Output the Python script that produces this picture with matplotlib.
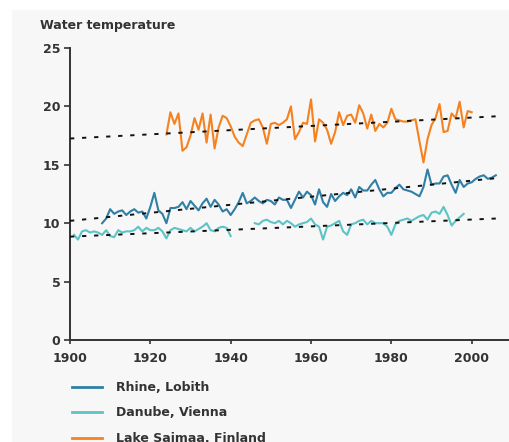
import numpy as np
import matplotlib
matplotlib.use("Agg")
import matplotlib.pyplot as plt
from matplotlib.patches import Rectangle

# ---------------- data ----------------
saimaa_years = list(range(1924, 2001))
saimaa_vals = [17.6, 19.5, 18.5, 19.4, 16.2, 16.5, 17.5, 19.0, 18.0, 19.4,
               16.9, 19.3, 16.4, 18.2, 19.2, 19.0, 18.3, 17.4, 16.9, 16.6,
               17.6, 18.6, 18.8, 18.9, 18.2, 16.8, 18.5, 18.6, 18.4, 18.6,
               18.9, 20.0, 17.2, 17.8, 18.6, 18.5, 20.6, 17.0, 18.9, 18.6,
               18.0, 16.8, 17.8, 19.5, 18.4, 19.2, 19.3, 18.6, 20.1, 19.4,
               18.1, 19.3, 17.9, 18.5, 18.2, 18.6, 19.8, 18.9, 18.8, 18.7,
               18.7, 18.8, 18.9, 17.0, 15.2, 17.2, 18.4, 19.0, 20.2, 17.8,
               17.9, 19.4, 19.0, 20.4, 18.2, 19.6, 19.5]

rhine_years = list(range(1908, 2007))
rhine_vals = [10.0, 10.4, 11.2, 10.8, 11.0, 11.1, 10.7, 11.0, 11.2, 10.9,
              11.0, 10.4, 11.4, 12.6, 11.1, 10.8, 10.0, 11.3, 11.3, 11.4,
              11.8, 11.2, 11.9, 11.5, 11.1, 11.7, 12.1, 11.4, 12.0, 11.6,
              11.0, 11.2, 10.7, 11.2, 11.8, 12.6, 11.7, 11.9, 12.2, 11.9,
              11.7, 12.0, 11.9, 11.6, 12.2, 12.0, 12.0, 11.3, 12.0, 12.7,
              12.2, 12.7, 12.4, 11.6, 12.9, 11.8, 11.4, 12.5, 11.9, 12.3,
              12.6, 12.4, 12.9, 12.2, 13.1, 12.8, 12.8, 13.3, 13.7, 12.9,
              12.3, 12.6, 12.6, 13.0, 13.3, 12.9, 12.8, 12.7, 12.5, 12.3,
              13.1, 14.6, 13.3, 13.4, 13.4, 14.0, 14.1, 13.3, 12.6, 13.7,
              13.1, 13.4, 13.5, 13.8, 14.0, 14.1, 13.8, 13.9, 14.1]

danube_years = list(range(1901, 1999))
danube_vals = [9.0, 8.6, 9.3, 9.4, 9.2, 9.3, 9.2, 9.0, 9.4, 8.9,
               8.8, 9.4, 9.2, 9.3, 9.3, 9.4, 9.7, 9.3, 9.6, 9.4,
               9.4, 9.6, 9.3, 8.7, 9.4, 9.6, 9.5, 9.4, 9.3, 9.6,
               9.3, 9.5, 9.7, 10.0, 9.4, 9.3, 9.6, 9.7, 9.6, 8.9,
               np.nan, np.nan, np.nan, np.nan, np.nan,
               10.0, 9.9, 10.2, 10.3, 10.1, 10.0, 10.2, 9.9, 10.2, 10.0,
               9.7, 9.9, 10.0, 10.1, 10.4, 9.9, 9.7, 8.6, 9.7, 9.8,
               10.0, 10.2, 9.3, 9.0, 9.9, 10.0, 10.2, 10.3, 9.9, 10.2,
               10.0, 10.0, 10.0, 9.7, 9.0, 9.9, 10.2, 10.3, 10.4, 10.2,
               10.4, 10.6, 10.7, 10.3, 10.9, 11.0, 10.8, 11.4, 10.7, 9.8,
               10.2, 10.5, 10.8]

# linear trend lines (start / end values)
trend_years = [1900, 2006]
saimaa_trend = [17.25, 19.15]
rhine_trend = [10.2, 13.85]
danube_trend = [8.85, 10.4]

x_ticks = [1900, 1920, 1940, 1960, 1980, 2000]
y_ticks = [0, 5, 10, 15, 20, 25]
labels = ["Rhine, Lobith", "Danube, Vienna", "Lake Saimaa, Finland"]
colors = ["#2f7fa6", "#5cc3c6", "#f5821f"]

W, H = 510, 442
fig = plt.figure(figsize=(W / 100, H / 100), dpi=100, facecolor="white")
bg = "#f7f7f7"
fig.patches.append(Rectangle((12 / W, 0), 1 - 12 / W, 1 - 10 / H,
                             transform=fig.transFigure, facecolor=bg,
                             edgecolor="none", zorder=-5))

left, right, top, bottom = 70, 510, 48, 340
ax = fig.add_axes([left / W, 1 - bottom / H, (right - left) / W, (bottom - top) / H])
ax.set_facecolor("none")
ax.set_zorder(2)

lw = 1.5
l1, = ax.plot(rhine_years, rhine_vals, color=colors[0], lw=lw, zorder=3)
l2, = ax.plot(danube_years, danube_vals, color=colors[1], lw=lw, zorder=3)
l3, = ax.plot(saimaa_years, saimaa_vals, color=colors[2], lw=lw, zorder=3)

for tv in (saimaa_trend, rhine_trend, danube_trend):
    ax.plot(trend_years, tv, color="#111111", lw=1.4,
            linestyle=(0, (2.2, 4.0)), zorder=4)

ax.set_xlim(1900, 1900 + (right - left) / 4.017)
ax.set_ylim(0, 25)
ax.set_xticks(x_ticks)
ax.set_yticks(y_ticks)
for s in ("top", "right"):
    ax.spines[s].set_visible(False)
for s in ("left", "bottom"):
    ax.spines[s].set_color("#333333")
    ax.spines[s].set_linewidth(1.4)
ax.tick_params(axis="both", colors="#333333", labelsize=9, width=1.2)
ax.tick_params(axis="y", length=4, pad=3)
ax.tick_params(axis="x", length=3, pad=6)
for t in ax.get_xticklabels() + ax.get_yticklabels():
    t.set_fontweight("bold")
    t.set_color("#333333")

fig.text(40 / W, 1 - 25 / H, "Water temperature", fontsize=9, fontweight="bold",
         color="#333333", ha="left", va="center")

leg = fig.legend([l1, l2, l3], labels, loc="upper left",
                 bbox_to_anchor=(72 / W, 1 - 381 / H), frameon=False,
                 borderpad=0, borderaxespad=0, handlelength=2.4,
                 handletextpad=1.15, labelspacing=1.0,
                 prop={"size": 9, "weight": "bold"})
for t in leg.get_texts():
    t.set_color("#333333")
for h in leg.legend_handles:
    h.set_linewidth(2)

fig.savefig("out.png", dpi=100, facecolor=fig.get_facecolor())
